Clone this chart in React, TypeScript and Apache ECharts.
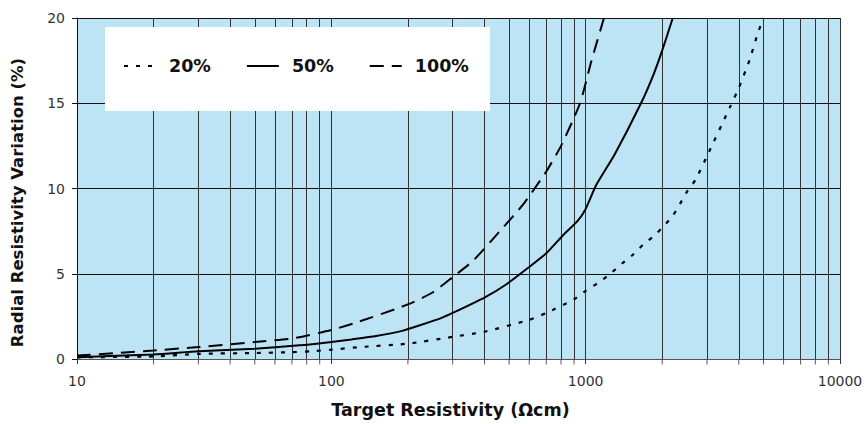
import React, { useEffect, useRef } from "react";
import * as echarts from "echarts";

const x20 = [10, 20, 30, 50, 70, 83, 100, 130, 200, 300, 400, 600, 700, 900, 1000, 1130, 1250, 1390, 1530, 1680, 1850, 2030, 2200, 2350, 2500, 2700, 3000, 3700, 4000, 4400, 4750, 5000];
const y20 = [0.1, 0.15, 0.3, 0.35, 0.4, 0.45, 0.55, 0.7, 0.9, 1.3, 1.6, 2.3, 2.7, 3.5, 4.0, 4.5, 5.0, 5.6, 6.1, 6.7, 7.2, 7.8, 8.4, 9.1, 9.8, 10.5, 11.9, 14.8, 15.9, 17.5, 19.1, 20];

const x50 = [10, 20, 30, 50, 75, 100, 120, 150, 190, 220, 270, 300, 400, 490, 600, 700, 820, 930, 1000, 1100, 1300, 1650, 1850, 2000, 2200];
const y50 = [0.1, 0.27, 0.45, 0.6, 0.8, 1.0, 1.15, 1.35, 1.65, 1.95, 2.4, 2.7, 3.6, 4.4, 5.4, 6.2, 7.3, 8.1, 8.8, 10.2, 12, 15, 16.7, 18.1, 20];

const x100 = [10, 20, 30, 50, 70, 100, 126, 200, 250, 300, 360, 460, 570, 700, 800, 950, 1050, 1180];
const y100 = [0.2, 0.5, 0.7, 1.0, 1.2, 1.7, 2.15, 3.2, 3.9, 4.8, 5.75, 7.5, 9.1, 11, 12.5, 15, 17.4, 20];

const minorX = [20, 30, 40, 50, 60, 70, 80, 90, 200, 300, 400, 500, 600, 700, 800, 900, 2000, 3000, 4000, 5000, 6000, 7000, 8000, 9000];
const seriesNames = ["20%", "50%", "100%"];

const FONT = "'DejaVu Sans', sans-serif";

function zip(xs: number[], ys: number[]) {
  return xs.map((x, i) => [x, ys[i]]);
}

export default function App() {
  const ref = useRef<HTMLDivElement>(null);
  useEffect(() => {
    document.body.style.margin = "0";
    if (!ref.current) return;
    const chart = echarts.init(ref.current, null, { renderer: "svg" });
    const lineCommon = {
      type: "line",
      showSymbol: false,
      symbol: "none",
      smooth: 0.2,
      z: 5,
      clip: true,
    };
    chart.setOption({
      animation: false,
      grid: {
        left: 77,
        right: 27,
        top: 18,
        bottom: 62,
        show: true,
        backgroundColor: "#bde4f5",
        borderWidth: 0,
      },
      graphic: [
        {
          type: "rect",
          shape: { x: 105, y: 27, width: 385, height: 84 },
          style: { fill: "#ffffff" },
          z: 100,
        },
      ],
      legend: {
        data: seriesNames,
        left: 118,
        top: 52,
        z: 110,
        itemWidth: 32,
        itemHeight: 14,
        itemGap: 35,
        itemStyle: { opacity: 0 },
        textStyle: {
          fontFamily: FONT,
          fontWeight: "bold",
          fontSize: 17.5,
          color: "#111",
          padding: [0, 0, 0, 8],
        },
      },
      xAxis: {
        type: "log",
        logBase: 10,
        min: 10,
        max: 10000,
        name: "Target Resistivity (Ωcm)",
        nameLocation: "middle",
        nameGap: 42,
        nameTextStyle: {
          fontFamily: FONT,
          fontWeight: "bold",
          fontSize: 17.5,
          color: "#111",
          padding: [0, 16, 0, 0],
        },
        axisLine: { show: true, lineStyle: { color: "#555", width: 1 } },
        axisTick: { show: true, length: 5, lineStyle: { color: "#333" } },
        axisLabel: {
          fontFamily: FONT,
          fontSize: 14,
          color: "#333",
          margin: 15,
          formatter: (v: number) => String(Math.round(v)),
        },
        splitLine: { show: true, lineStyle: { color: "#333", width: 1 } },
        minorTick: { show: false },
      },
      yAxis: {
        type: "value",
        min: 0,
        max: 20,
        interval: 5,
        name: "Radial Resistivity Variation (%)",
        nameLocation: "middle",
        nameGap: 51,
        nameTextStyle: {
          fontFamily: FONT,
          fontWeight: "bold",
          fontSize: 16.5,
          color: "#111",
          padding: [0, 28, 0, 0],
        },
        axisLine: { show: true, lineStyle: { color: "#111", width: 1 } },
        axisTick: { show: true, length: 5, lineStyle: { color: "#111" } },
        axisLabel: { fontFamily: FONT, fontSize: 14, color: "#333", margin: 12 },
        splitLine: { show: true, lineStyle: { color: "#111", width: 1 } },
      },
      series: [
        {
          name: "ticks",
          type: "scatter",
          data: minorX.map((v) => [v, 0]),
          symbol: "rect",
          symbolSize: [1, 5],
          symbolOffset: [0, 3],
          itemStyle: { color: "#333" },
          clip: false,
          silent: true,
          z: 1,
          markLine: {
            silent: true,
            symbol: ["none", "none"],
            label: { show: false },
            lineStyle: { color: "#333", width: 1, type: "solid" },
            emphasis: { disabled: true },
            data: minorX.map((v) => ({ xAxis: v })),
          },
        },
        {
          ...lineCommon,
          name: "20%",
          data: zip(x20, y20),
          lineStyle: { color: "#000", width: 2.2, type: [4, 8] },
          itemStyle: { color: "#000" },
        },
        {
          ...lineCommon,
          name: "50%",
          data: zip(x50, y50),
          lineStyle: { color: "#000", width: 2, type: "solid" },
          itemStyle: { color: "#000" },
        },
        {
          ...lineCommon,
          name: "100%",
          data: zip(x100, y100),
          lineStyle: { color: "#000", width: 2, type: [14, 8] },
          itemStyle: { color: "#000" },
        },
      ],
    });
    return () => chart.dispose();
  }, []);
  return <div ref={ref} style={{ width: 867, height: 424 }} />;
}
